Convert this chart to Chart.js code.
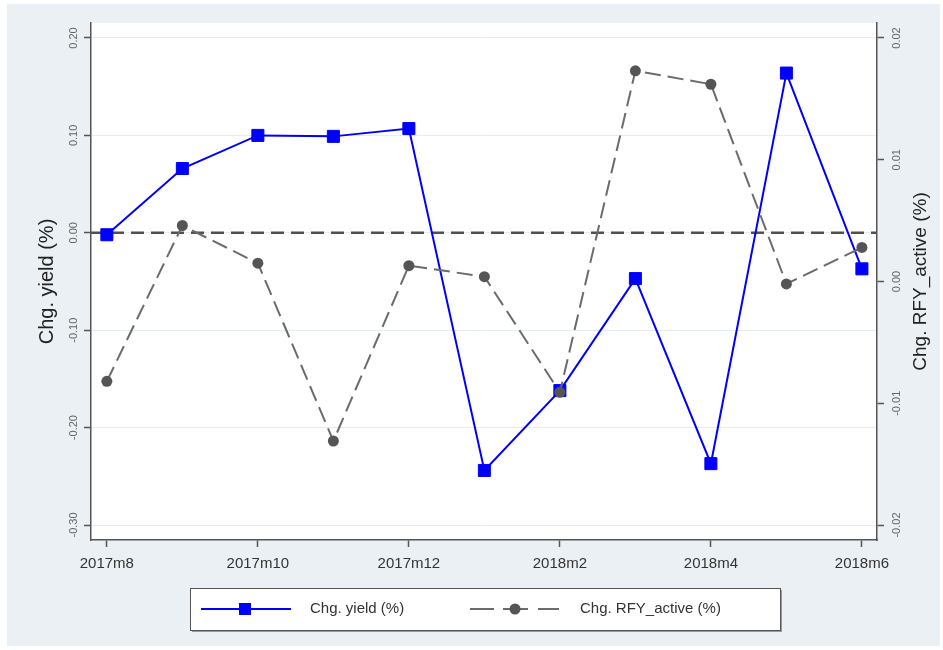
<!DOCTYPE html>
<html>
<head>
<meta charset="utf-8">
<script src="https://cdn.jsdelivr.net/npm/chart.js@4/dist/chart.umd.min.js"></script>
<style>
  html, body { margin: 0; padding: 0; background: #ffffff; }
  #wrap { width: 943px; height: 650px; }
</style>
</head>
<body>
<div id="wrap"><canvas id="yieldChart" width="943" height="650"></canvas></div>
<script>
// --------------------------------------------------------------------
// Data
// --------------------------------------------------------------------
const months = ['2017m8', '2017m9', '2017m10', '2017m11', '2017m12', '2018m1',
                '2018m2', '2018m3', '2018m4', '2018m5', '2018m6'];
const xTickIdx = [0, 2, 4, 6, 8, 10];

const yieldChg = [-0.002, 0.066, 0.100, 0.099, 0.107, -0.244, -0.162, -0.047, -0.237, 0.164, -0.037];
const rfyChg = [-0.0082, 0.0046, 0.0015, -0.0131, 0.0013, 0.0004, -0.0091, 0.0173, 0.0162, -0.0002, 0.0028];

const leftTicks = [0.20, 0.10, 0.00, -0.10, -0.20, -0.30];
const rightTicks = [0.02, 0.01, 0.00, -0.01, -0.02];

const seriesNames = ['Chg. yield (%)', 'Chg. RFY_active (%)'];
const axisTitles = ['Chg. yield (%)', 'Chg. RFY_active (%)'];

const FONT = "'Liberation Sans', Arial, sans-serif";

// --------------------------------------------------------------------
// Plugins: backgrounds, zero line, rotated y labels/titles, legend box
// --------------------------------------------------------------------
const stataLook = {
    id: 'stataLook',
    beforeDraw(chart) {
        const { ctx, chartArea: a } = chart;
        ctx.save();
        ctx.fillStyle = '#ffffff';
        ctx.fillRect(0, 0, chart.width, chart.height);
        ctx.fillStyle = '#eaf0f3';
        ctx.fillRect(7, 4, chart.width - 10, chart.height - 8);
        ctx.fillStyle = '#ffffff';
        ctx.fillRect(a.left, a.top, a.right - a.left, a.bottom - a.top);
        ctx.restore();
    },
    beforeDatasetsDraw(chart) {
        // dashed reference line at 0 on the left axis
        const { ctx, chartArea: a } = chart;
        const y = chart.scales.y.getPixelForValue(0);
        ctx.save();
        ctx.strokeStyle = '#505050';
        ctx.lineWidth = 2.5;
        ctx.setLineDash([13, 7]);
        ctx.beginPath();
        ctx.moveTo(a.left, y);
        ctx.lineTo(a.right, y);
        ctx.stroke();
        ctx.restore();
    },
    afterDraw(chart) {
        const { ctx, chartArea: a } = chart;
        ctx.save();

        // rotated tick labels
        ctx.fillStyle = '#666666';
        ctx.font = '11px ' + FONT;
        ctx.textAlign = 'center';
        ctx.textBaseline = 'middle';
        const drawRot = (txt, x, y) => {
            ctx.save();
            ctx.translate(x, y);
            ctx.rotate(-Math.PI / 2);
            ctx.fillText(txt, 0, 0);
            ctx.restore();
        };
        leftTicks.forEach(v => drawRot(v.toFixed(2), a.left - 17, chart.scales.y.getPixelForValue(v)));
        rightTicks.forEach(v => drawRot(v.toFixed(2), a.right + 20, chart.scales.y1.getPixelForValue(v)));

        // axis titles
        ctx.fillStyle = '#222222';
        ctx.font = '20px ' + FONT;
        const midY = (a.top + a.bottom) / 2;
        drawRot(axisTitles[0], 47, midY);
        ctx.font = '19px ' + FONT;
        drawRot(axisTitles[1], 921, midY);

        // legend
        const lx = 190, ly = 588, lw = 590, lh = 42;
        ctx.fillStyle = '#9a9a9a';
        ctx.fillRect(lx + 2, ly + 2, lw, lh);
        ctx.fillStyle = '#ffffff';
        ctx.fillRect(lx, ly, lw, lh);
        ctx.strokeStyle = '#555555';
        ctx.lineWidth = 1;
        ctx.strokeRect(lx + 0.5, ly + 0.5, lw, lh);

        const cy = ly + lh / 2;
        const ds = chart.data.datasets;

        // yield item
        ctx.strokeStyle = ds[0].borderColor;
        ctx.lineWidth = 2;
        ctx.beginPath();
        ctx.moveTo(201, cy);
        ctx.lineTo(291, cy);
        ctx.stroke();
        ctx.fillStyle = ds[0].pointBackgroundColor;
        ctx.fillRect(239, cy - 6, 12, 12);

        // rfy item
        ctx.strokeStyle = ds[1].borderColor;
        ctx.beginPath();
        ctx.moveTo(470, cy); ctx.lineTo(494, cy);
        ctx.moveTo(538, cy); ctx.lineTo(559, cy);
        ctx.moveTo(503, cy); ctx.lineTo(528, cy);
        ctx.stroke();
        ctx.fillStyle = ds[1].pointBackgroundColor;
        ctx.beginPath();
        ctx.arc(515, cy, 5.5, 0, Math.PI * 2);
        ctx.fill();

        ctx.fillStyle = '#333333';
        ctx.font = '15px ' + FONT;
        ctx.textAlign = 'left';
        ctx.fillText(seriesNames[0], 310, cy);
        ctx.fillText(seriesNames[1], 580, cy);

        ctx.restore();
    }
};

// --------------------------------------------------------------------
// Chart
// --------------------------------------------------------------------
const ctx = document.getElementById('yieldChart');

new Chart(ctx, {
    type: 'line',
    data: {
        datasets: [{
            label: seriesNames[0],
            data: yieldChg.map((v, i) => ({ x: i, y: v })),
            yAxisID: 'y',
            borderColor: '#0000ff',
            borderWidth: 2,
            pointStyle: 'rect',
            pointRadius: 8.5,
            pointBackgroundColor: '#0000ff',
            pointBorderColor: '#0000ff',
            pointBorderWidth: 1,
            tension: 0,
            order: 1
        }, {
            label: seriesNames[1],
            data: rfyChg.map((v, i) => ({ x: i, y: v })),
            yAxisID: 'y1',
            borderColor: '#6b6b6b',
            borderWidth: 2,
            borderDash: [16, 7],
            pointStyle: 'circle',
            pointRadius: 5.5,
            pointBackgroundColor: '#555555',
            pointBorderColor: '#555555',
            pointBorderWidth: 0,
            tension: 0,
            order: 0
        }]
    },
    options: {
        responsive: false,
        animation: false,
        devicePixelRatio: 1,
        layout: { padding: { top: 23, left: 0, right: 0, bottom: 0 } },
        plugins: {
            legend: { display: false },
            tooltip: { enabled: false }
        },
        scales: {
            x: {
                type: 'linear',
                min: -0.21,
                max: 10.2,
                afterBuildTicks: s => { s.ticks = xTickIdx.map(v => ({ value: v })); },
                afterFit: s => { s.height = 110; },
                grid: { drawOnChartArea: false, drawTicks: true, tickLength: 7, tickColor: '#555555', tickWidth: 1.5 },
                border: { color: '#555555', width: 1.5 },
                ticks: {
                    color: '#333333',
                    font: { size: 15, family: FONT },
                    padding: 8,
                    maxRotation: 0,
                    autoSkip: false,
                    callback: v => months[v]
                }
            },
            y: {
                position: 'left',
                min: -0.3154,
                max: 0.2154,
                afterBuildTicks: s => { s.ticks = leftTicks.map(v => ({ value: v })); },
                afterFit: s => { s.width = 91; },
                grid: { color: '#e4eef0', lineWidth: 1, tickLength: 7, tickColor: '#555555', tickWidth: 1.5 },
                border: { color: '#555555', width: 1.5 },
                ticks: { color: 'rgba(0,0,0,0)', font: { size: 11, family: FONT } }
            },
            y1: {
                position: 'right',
                min: -0.02123,
                max: 0.02123,
                afterBuildTicks: s => { s.ticks = rightTicks.map(v => ({ value: v })); },
                afterFit: s => { s.width = 66; },
                grid: { drawOnChartArea: false, tickLength: 7, tickColor: '#555555', tickWidth: 1.5 },
                border: { color: '#555555', width: 1.5 },
                ticks: { color: 'rgba(0,0,0,0)', font: { size: 11, family: FONT } }
            }
        }
    },
    plugins: [stataLook]
});
</script>
</body>
</html>
